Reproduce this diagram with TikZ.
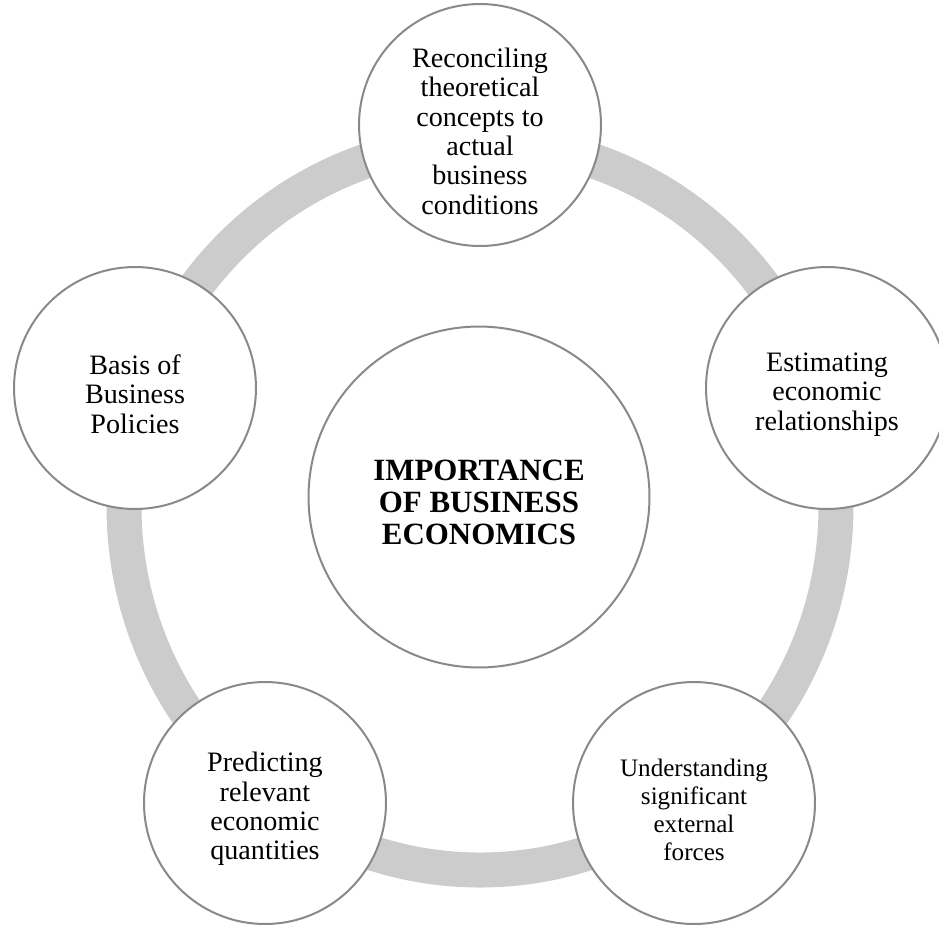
\documentclass[tikz,border=0pt]{standalone}
\usepackage{fontspec}
\setmainfont{Liberation Serif}
\usepackage{xcolor}
\usepackage{tikz}

\definecolor{ringgray}{RGB}{204,204,204}
\definecolor{edgegray}{RGB}{137,137,137}

% taller first line, so the text sits a little low in its circle
\newcommand{\topgap}{\rule{0pt}{18pt}}

\begin{document}
\begin{tikzpicture}[x=0.02cm, y=-0.02cm,
		item/.style={circle, draw=edgegray, line width=0.04cm, fill=white,
			minimum size=4.84cm, inner sep=0pt, align=center,
			font=\fontsize{16}{16.7}\selectfont},
		hub/.style={item, minimum size=6.82cm,
			font=\fontsize{17.6}{18.2}\selectfont\bfseries}
	]
			\useasboundingbox (0,0) rectangle (939,930);

			% grey ring behind the circles
			\coordinate (ringc) at (480,506);
			\draw[ringgray, line width=0.7cm] (ringc) ellipse [x radius=356, y radius=364];

			\node[hub] (importance) at (479,497) {\topgap IMPORTANCE\\OF BUSINESS\\ECONOMICS};

			\node[item] (reconcile) at (480,125) {\topgap Reconciling\\theoretical\\concepts to\\actual\\business\\conditions};
			\node[item] (estimate) at (827,388) {\topgap Estimating\\economic\\relationships};
			\node[item, font=\fontsize{14.3}{16}\selectfont] (external) at (694,803) {\topgap Understanding\\significant\\external\\forces};
			\node[item] (predict) at (265,803) {\topgap Predicting\\relevant\\economic\\quantities};
			\node[item] (policies) at (135,388) {\topgap Basis of\\Business\\Policies};
		\end{tikzpicture}
\end{document}
